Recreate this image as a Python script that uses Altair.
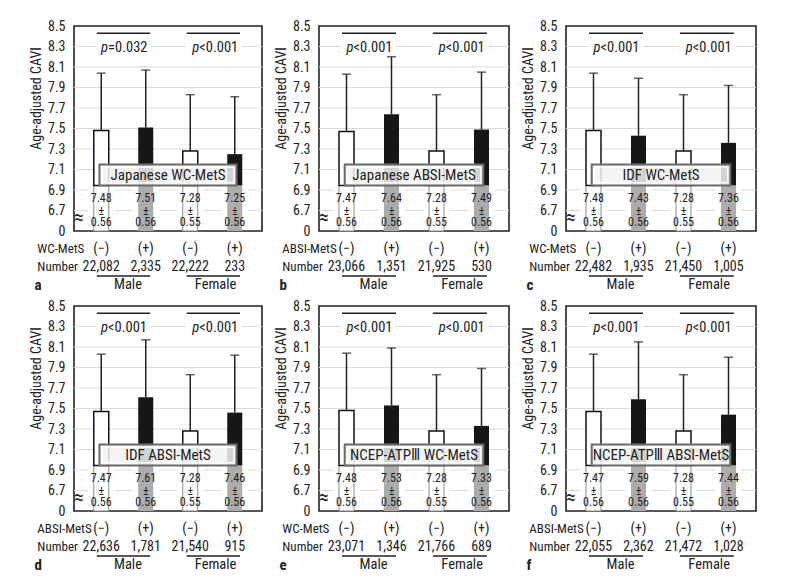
import altair as alt
import pandas as pd

# ---------------- data ----------------
panel_ids = ["a", "b", "c", "d", "e", "f"]
box_titles = ["Japanese WC-MetS", "Japanese ABSI-MetS", "IDF WC-MetS",
              "IDF ABSI-MetS", "NCEP-ATPⅢ WC-MetS", "NCEP-ATPⅢ ABSI-MetS"]
mets_labels = ["WC-MetS", "ABSI-MetS", "WC-MetS", "ABSI-MetS", "WC-MetS", "ABSI-MetS"]
means = [
    [7.48, 7.51, 7.28, 7.25],
    [7.47, 7.64, 7.28, 7.49],
    [7.48, 7.43, 7.28, 7.36],
    [7.47, 7.61, 7.28, 7.46],
    [7.48, 7.53, 7.28, 7.33],
    [7.47, 7.59, 7.28, 7.44],
]
sds = [
    [0.56, 0.56, 0.55, 0.56],
    [0.56, 0.56, 0.55, 0.56],
    [0.56, 0.56, 0.55, 0.56],
    [0.56, 0.56, 0.55, 0.56],
    [0.56, 0.56, 0.55, 0.56],
    [0.56, 0.56, 0.55, 0.56],
]
numbers = [
    ["22,082", "2,335", "22,222", "233"],
    ["23,066", "1,351", "21,925", "530"],
    ["22,482", "1,935", "21,450", "1,005"],
    ["22,636", "1,781", "21,540", "915"],
    ["23,071", "1,346", "21,766", "689"],
    ["22,055", "2,362", "21,472", "1,028"],
]
p_male = ["=0.032", "<0.001", "<0.001", "<0.001", "<0.001", "<0.001"]
p_female = ["<0.001", "<0.001", "<0.001", "<0.001", "<0.001", "<0.001"]
signs = ["(−)", "(+)", "(−)", "(+)"]
status = ["neg", "pos", "neg", "pos"]
sexes = ["Male", "Female"]
grid_vals = [6.7, 6.9, 7.1, 7.3, 7.5, 7.7, 7.9, 8.1, 8.3]
tick_vals = [6.5, 6.7, 6.9, 7.1, 7.3, 7.5, 7.7, 7.9, 8.1, 8.3, 8.5]

# ---------------- style ----------------
FONT = "Roboto Condensed, DejaVu Sans Condensed, Liberation Sans Narrow, Liberation Sans, sans-serif"
INK = "#222222"
widths = [188, 190, 190, 188, 190, 190]
H = 205
BAR_W = 15
SEX_C = [0.6, 2.57]        # centre of the Male / Female captions
GROUP_C = [0.49, 2.54]     # centre of the p-value captions
SPANS = [(-0.1, 1.1), (1.92, 3.12)]
BASE = 6.945               # bottom of the caption box
BOX_TOP = 7.15


def panel(i):
    w = widths[i]
    pxu = w / 4.0
    pyu = H / 2.0
    xs = alt.Scale(domain=[-0.5, 3.5], nice=False, zero=False)
    ys = alt.Scale(domain=[6.5, 8.5], nice=False, zero=False)
    yaxis = alt.Axis(
        values=tick_vals,
        labelExpr="datum.value < 6.6 ? '0' : format(datum.value, '.1f')",
        grid=False, domain=False, ticks=False, labelPadding=9,
        labelFontSize=14, labelColor=INK,
        title="Age-adjusted CAVI", titleFontSize=14, titleFontWeight="normal",
        titleColor=INK, titleX=-38, titleY=72, titleAngle=-90,
        titleBaseline="middle", titleAlign="center",
    )

    def Yf(f):
        return alt.Y(f, type="quantitative", scale=ys, axis=yaxis)

    def Yd(v):
        return alt.YDatum(v, type="quantitative", scale=ys, axis=yaxis)

    def Xf(f):
        return alt.X(f, type="quantitative", scale=xs, axis=None)

    def Xd(v):
        return alt.XDatum(v, type="quantitative", scale=xs, axis=None)

    df = pd.DataFrame({
        "pos": [0, 1, 2, 3],
        "mean": means[i],
        "sd": sds[i],
        "n": numbers[i],
        "sign": signs,
        "status": status,
    })
    df["top"] = df["mean"] + df["sd"]
    df["mtxt"] = df["mean"].map(lambda v: f"{v:.2f}")
    df["sdtxt"] = df["sd"].map(lambda v: f"{v:.2f}")
    neg = df[df["status"] == "neg"]
    pos = df[df["status"] == "pos"]

    base = alt.Chart(df)
    grid = alt.Chart(pd.DataFrame({"g": grid_vals})).mark_rule(
        color="#dadada", strokeWidth=1).encode(y=Yf("g"))

    # white halos behind the value labels and p-values (hide grid)
    halo = base.mark_bar(size=26, color="white").encode(
        x=Xf("pos"), y=Yd(6.53), y2=alt.Y2Datum(6.93))
    pdf = pd.DataFrame({"cx": GROUP_C, "rest": [p_male[i], p_female[i]]})
    phalo = alt.Chart(pdf).mark_bar(size=56, color="white").encode(
        x=Xf("cx"), y=Yd(8.235), y2=alt.Y2Datum(8.345))

    low_neg = alt.Chart(neg).mark_bar(size=BAR_W, fill="white", stroke="#8c8c8c",
                                      strokeWidth=1).encode(
        x=Xf("pos"), y=Yd(6.5), y2=alt.Y2Datum(BASE))
    low_pos = alt.Chart(pos).mark_bar(size=BAR_W, color="#acacac").encode(
        x=Xf("pos"), y=Yd(6.5), y2=alt.Y2Datum(BASE))

    bar_neg = alt.Chart(neg).mark_bar(size=BAR_W, fill="white", stroke="#111111",
                                      strokeWidth=1.5).encode(
        x=Xf("pos"), y=Yf("mean"), y2=alt.Y2Datum(BASE))
    bar_pos = alt.Chart(pos).mark_bar(size=BAR_W, color="#161616").encode(
        x=Xf("pos"), y=Yf("mean"), y2=alt.Y2Datum(BASE))

    err = base.mark_rule(color=INK, strokeWidth=1.5).encode(
        x=Xf("pos"), y=Yf("mean"), y2="top:Q")
    cap = base.mark_tick(orient="horizontal", size=9, thickness=1.5, color=INK).encode(
        x=Xf("pos"), y=Yf("top"))

    sdf = pd.DataFrame({"x1": [s[0] for s in SPANS], "x2": [s[1] for s in SPANS]})
    sig = alt.Chart(sdf).mark_rule(color=INK, strokeWidth=1.5).encode(
        x=Xf("x1"), x2="x2:Q", y=Yd(8.43))
    p_it = alt.Chart(pdf).mark_text(align="right", dx=-15, fontSize=14.5,
                                    fontStyle="italic", color=INK).encode(
        x=Xf("cx"), y=Yd(8.29), text=alt.value("p"))
    p_rest = alt.Chart(pdf).mark_text(align="left", dx=-15, fontSize=14.5,
                                      color=INK).encode(
        x=Xf("cx"), y=Yd(8.29), text="rest:N")

    # caption box with a double border
    tdf = pd.DataFrame({"t": [box_titles[i]]})
    box = alt.Chart(tdf).mark_rect(
        fill="#f2f2f2", fillOpacity=0.86, stroke="#6a6a6a", strokeWidth=2).encode(
        x=Xd(-0.04), x2=alt.X2Datum(3.04), y=Yd(BASE), y2=alt.Y2Datum(BOX_TOP))
    ix, iy = 2.6 / pxu, 2.6 / pyu
    box_in = alt.Chart(tdf).mark_rect(
        fillOpacity=0, stroke="white", strokeWidth=1.4).encode(
        x=Xd(-0.04 + ix), x2=alt.X2Datum(3.04 - ix),
        y=Yd(BASE + iy), y2=alt.Y2Datum(BOX_TOP - iy))
    box_txt = alt.Chart(tdf).mark_text(
        fontSize=15, color=INK).encode(x=Xd(1.5), y=Yd(7.047), text="t:N")

    v1 = base.mark_text(fontSize=12, color=INK).encode(
        x=Xf("pos"), y=Yd(6.822), text="mtxt:N")
    v2 = base.mark_text(fontSize=12, color=INK).encode(
        x=Xf("pos"), y=Yd(6.699), text=alt.value("±"))
    v3 = base.mark_text(fontSize=12, color=INK).encode(
        x=Xf("pos"), y=Yd(6.588), text="sdtxt:N")

    # axis break marker
    brk_bg = alt.Chart(pd.DataFrame({"k": [0]})).mark_bar(size=4, color="white").encode(
        x=Xd(-0.5), y=Yd(6.6), y2=alt.Y2Datum(6.65))
    brk = alt.Chart(pd.DataFrame({"k": [0]})).mark_text(
        fontSize=20, color=INK, text="≈").encode(x=Xd(-0.5), y=Yd(6.625))

    # rows below the axis
    left_x = -0.5 - 44.0 / pxu
    sign_t = base.mark_text(fontSize=14, color=INK).encode(
        x=Xf("pos"), y=Yd(6.324), text="sign:N")
    n_t = base.mark_text(fontSize=14, color=INK).encode(
        x=Xf("pos"), y=Yd(6.149), text="n:N")
    lab = alt.Chart(pd.DataFrame({"t": [mets_labels[i], "Number"],
                                  "row": [6.324, 6.149]})).mark_text(
        align="left", fontSize=13, color=INK).encode(
        x=Xd(left_x), y=Yf("row"), text="t:N")
    under = alt.Chart(sdf).mark_rule(color=INK, strokeWidth=1.5).encode(
        x=Xf("x1"), x2="x2:Q", y=Yd(6.061))
    sex_t = alt.Chart(pd.DataFrame({"s": sexes, "c": SEX_C})).mark_text(
        fontSize=14.5, color=INK).encode(x=Xf("c"), y=Yd(5.973), text="s:N")
    letter = alt.Chart(pd.DataFrame({"t": [panel_ids[i]]})).mark_text(
        align="left", fontSize=15, fontWeight="bold", color=INK).encode(
        x=Xd(-0.5 - 47.0 / pxu), y=Yd(5.973), text="t:N")

    return alt.layer(
        grid, halo, phalo, low_neg, low_pos, bar_neg, bar_pos, err, cap,
        sig, p_it, p_rest, box, box_in, box_txt, v1, v2, v3, brk_bg, brk,
        sign_t, n_t, lab, under, sex_t, letter,
    ).properties(width=w, height=H)


chart = alt.concat(*[panel(k) for k in range(6)], columns=3,
                   spacing=alt.RowColnumber(row=75, column=57),
                   bounds="flush").properties(
    padding={"left": 20, "top": 10, "right": 5, "bottom": 5},
    background="white",
).configure(font=FONT).configure_view(stroke=INK, strokeWidth=1.6)

chart.save("out.html", embed_options={"renderer": "svg", "actions": False})
